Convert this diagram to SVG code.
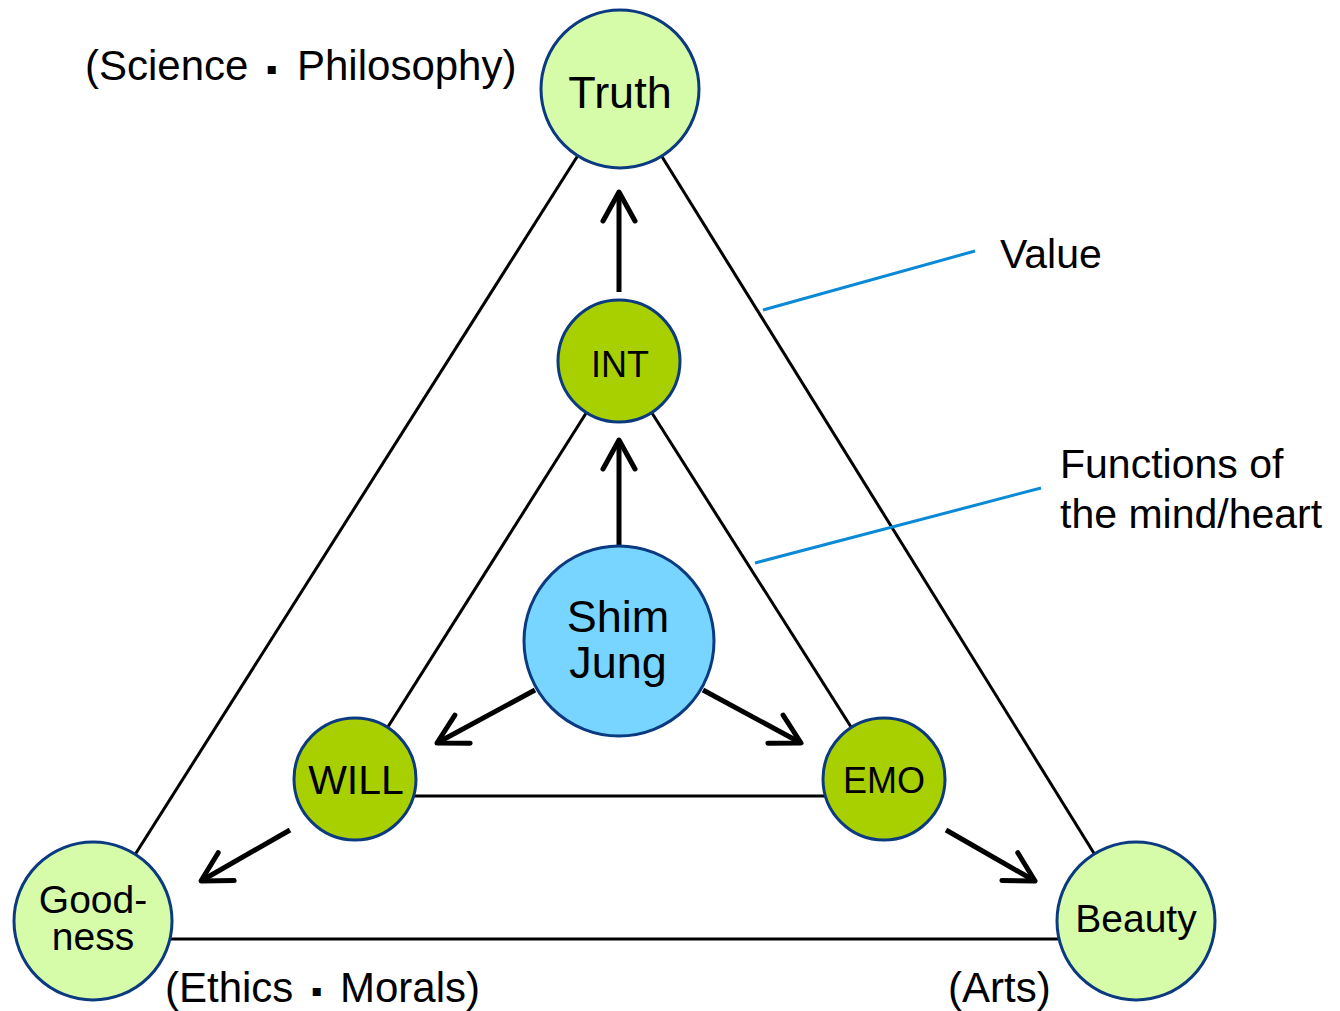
<svg xmlns="http://www.w3.org/2000/svg" width="1340" height="1011" viewBox="0 0 1340 1011">
<style>
.edge{stroke:#000;stroke-width:3;fill:none}
.lead{stroke:#0a8ad6;stroke-width:3;fill:none}
.arrow{stroke:#000;stroke-width:5;fill:none;marker-end:url(#chev)}
.val{fill:#d6fcaa;stroke:#0b3a80;stroke-width:3}
.fn{fill:#a8d000;stroke:#0b3a80;stroke-width:3}
.core{fill:#78d5ff;stroke:#0b3a80;stroke-width:3}
text{font-family:"Liberation Sans",Arial,"Noto Sans CJK JP",sans-serif;fill:#000}
.c{text-anchor:middle}
.dot{font-family:"DejaVu Sans","Noto Sans CJK JP",sans-serif;font-size:16px;text-anchor:middle}
</style>
<defs>
<marker id="chev" markerUnits="userSpaceOnUse" orient="auto" refX="0" refY="0" markerWidth="40" markerHeight="40" overflow="visible">
<path d="M-29,-16 L0,0 L-29,16" stroke="#000" stroke-width="5" fill="none" stroke-linejoin="round" stroke-linecap="round"/>
</marker>
</defs>
<rect width="1340" height="1011" fill="#fff"/>
<g id="connectors">
<line class="edge" x1="620" y1="89" x2="93" y2="921"/>
<line class="edge" x1="620" y1="89" x2="1136" y2="921"/>
<line class="edge" x1="160" y1="939" x2="1070" y2="939"/>
<line class="edge" x1="619" y1="361" x2="355" y2="779"/>
<line class="edge" x1="619" y1="361" x2="884" y2="779"/>
<line class="edge" x1="405" y1="796" x2="834" y2="796"/>
<line class="lead" x1="763" y1="310" x2="975" y2="251"/>
<line class="lead" x1="755" y1="563" x2="1041" y2="488"/>
<line class="arrow" x1="619" y1="292" x2="619" y2="192"/>
<line class="arrow" x1="619" y1="547" x2="619" y2="440"/>
<line class="arrow" x1="535" y1="690" x2="437" y2="743"/>
<line class="arrow" x1="703" y1="690" x2="801" y2="743"/>
<line class="arrow" x1="290" y1="830" x2="201" y2="881"/>
<line class="arrow" x1="946" y1="830" x2="1035" y2="881"/>
</g>
<g id="truth"><circle class="val" cx="620" cy="89" r="79"/><text class="c" x="620" y="108" font-size="45">Truth</text></g>
<g id="goodness"><circle class="val" cx="93" cy="921" r="79"/><text class="c" x="93" y="913" font-size="39">Good-</text><text class="c" x="93" y="950" font-size="39">ness</text></g>
<g id="beauty"><circle class="val" cx="1136" cy="921" r="79"/><text class="c" x="1136" y="932" font-size="39">Beauty</text></g>
<g id="int"><circle class="fn" cx="619" cy="361" r="61"/><text class="c" x="620" y="377" font-size="36">INT</text></g>
<g id="will"><circle class="fn" cx="355" cy="779" r="61"/><text class="c" x="356" y="794" font-size="41">WILL</text></g>
<g id="emo"><circle class="fn" cx="884" cy="779" r="61"/><text class="c" x="884" y="793" font-size="36">EMO</text></g>
<g id="shimjung"><circle class="core" cx="619" cy="641" r="95"/><text class="c" x="618" y="632" font-size="45">Shim</text><text class="c" x="618" y="678" font-size="45">Jung</text></g>
<g id="labels">
<text x="85" y="80" font-size="42">(Science</text>
<text class="dot" x="272" y="74">▪</text>
<text x="297" y="80" font-size="42">Philosophy)</text>
<text x="1000" y="268" font-size="41">Value</text>
<text x="1060" y="478" font-size="41">Functions of</text>
<text x="1060" y="528" font-size="41">the mind/heart</text>
<text x="165" y="1002" font-size="42">(Ethics</text>
<text class="dot" x="317" y="996">▪</text>
<text x="340" y="1002" font-size="42">Morals)</text>
<text x="948" y="1002" font-size="42">(Arts)</text>
</g>
</svg>
